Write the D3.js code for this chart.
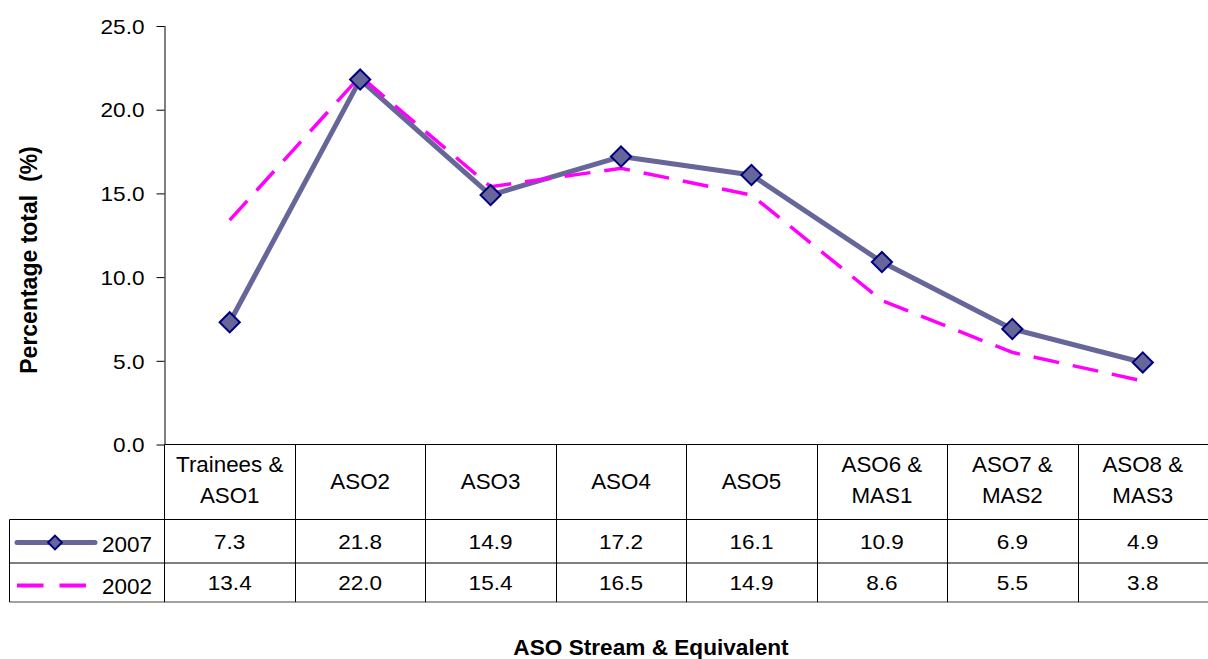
<!DOCTYPE html>
<html>
<head>
<meta charset="utf-8">
<script src="https://cdn.jsdelivr.net/npm/d3@7"></script>
<style>
  html, body { margin: 0; padding: 0; background: #fff; }
  svg { display: block; font-family: "Liberation Sans", Arial, sans-serif; }
</style>
</head>
<body>
<svg id="chart" width="1208" height="659"></svg>
<script>
// Grade groups along the x axis
const categories = ["Trainees & ASO1", "ASO2", "ASO3", "ASO4", "ASO5", "ASO6 & MAS1", "ASO7 & MAS2", "ASO8 & MAS3"];
// Percentage of total staff in each grade group
const values2007 = [7.3, 21.8, 14.9, 17.2, 16.1, 10.9, 6.9, 4.9];
const values2002 = [13.4, 22.0, 15.4, 16.5, 14.9, 8.6, 5.5, 3.8];
const seriesNames = ["2007", "2002"];
const yTicks = [0, 5, 10, 15, 20, 25];

const svg = d3.select("#chart");

const plotLeft = 164.5, plotRight = 1208, plotTop = 26, plotBottom = 444.5;
const headerBottom = 519.5, row1Bottom = 563, row2Bottom = 602, tableLeft = 9.5;

const x = d3.scaleBand().domain(categories).range([plotLeft, plotRight]);
const y = d3.scaleLinear().domain([0, 25]).range([plotBottom, plotTop]);
const cx = d => x(d) + x.bandwidth() / 2;

const BLUE = "#666699", NAVY = "#000080", MAGENTA = "#ff00ff";

// text placed with a slight horizontal stretch
function label(g, str, px, py, size, sx, opts = {}) {
  return g.append("text")
    .attr("transform", `translate(${px},${py}) scale(${sx},1)`)
    .attr("text-anchor", opts.anchor || "middle")
    .attr("font-size", size)
    .attr("font-weight", opts.weight || "normal")
    .attr("fill", "#000")
    .text(str);
}

// y axis
const yAxis = svg.append("g")
  .attr("transform", `translate(${plotLeft},0)`)
  .call(d3.axisLeft(y).tickValues(yTicks).tickFormat(d3.format(".1f")).tickSize(8).tickPadding(12));
yAxis.select(".domain").attr("stroke", "#000").attr("d", `M0.5,${plotTop}V${plotBottom}`);
yAxis.selectAll(".tick line").attr("stroke", "#000").attr("x2", -8);
yAxis.selectAll(".tick text")
  .attr("font-family", "Liberation Sans, Arial, sans-serif")
  .attr("font-size", 20)
  .attr("fill", "#000")
  .attr("dy", "0.36em")
  .attr("x", -20 / 1.13)
  .attr("transform", "scale(1.13,1)");

// data table grid
const grid = svg.append("g").attr("stroke", "#000").attr("stroke-width", 1).attr("fill", "none");
grid.append("line").attr("x1", plotLeft).attr("x2", plotRight).attr("y1", plotBottom).attr("y2", plotBottom);
grid.append("line").attr("x1", tableLeft).attr("x2", plotRight).attr("y1", headerBottom).attr("y2", headerBottom);
grid.append("line").attr("x1", tableLeft).attr("x2", plotRight).attr("y1", row1Bottom).attr("y2", row1Bottom);
grid.append("line").attr("x1", tableLeft).attr("x2", plotRight).attr("y1", row2Bottom).attr("y2", row2Bottom).attr("stroke", "#444");
grid.append("line").attr("x1", tableLeft).attr("x2", tableLeft).attr("y1", headerBottom).attr("y2", row2Bottom);
grid.selectAll("line.col").data(categories.slice(1)).enter().append("line")
  .attr("class", "col")
  .attr("x1", d => Math.round(x(d)) + 0.5).attr("x2", d => Math.round(x(d)) + 0.5)
  .attr("y1", plotBottom).attr("y2", row2Bottom);
grid.append("line").attr("x1", plotLeft).attr("x2", plotLeft).attr("y1", plotBottom).attr("y2", row2Bottom);

// category headers
const head = svg.append("g");
categories.forEach(c => {
  const parts = c.includes(" & ") ? [c.split(" & ")[0] + " &", c.split(" & ")[1]] : [c];
  if (parts.length === 2) {
    label(head, parts[0], cx(c), 471.5, 21.5, 1.04);
    label(head, parts[1], cx(c), 502.5, 21.5, 1.04);
  } else {
    label(head, parts[0], cx(c), 489, 21.5, 1.04);
  }
});

// value rows
const rows = svg.append("g");
const fmt = d3.format(".1f");
categories.forEach((c, i) => {
  label(rows, fmt(values2007[i]), cx(c), 549.3, 20, 1.13);
  label(rows, fmt(values2002[i]), cx(c), 590, 20, 1.13);
});

// legend keys in the row headers
const key = svg.append("g");
key.append("line").attr("x1", 17).attr("x2", 95).attr("y1", 542.5).attr("y2", 542.5)
  .attr("stroke", BLUE).attr("stroke-width", 5).attr("stroke-linecap", "round");
key.append("path").attr("d", d3.symbol(d3.symbolDiamond2, 122)())
  .attr("transform", "translate(55,542.5)")
  .attr("fill", BLUE).attr("stroke", NAVY).attr("stroke-width", 2);
label(key, seriesNames[0], 102, 551.5, 22.5, 1, { anchor: "start" });
key.append("line").attr("x1", 17).attr("x2", 86).attr("y1", 585.5).attr("y2", 585.5)
  .attr("stroke", MAGENTA).attr("stroke-width", 4).attr("stroke-dasharray", "26.5,16");
label(key, seriesNames[1], 102, 594, 22.5, 1, { anchor: "start" });

// series lines
const line2007 = d3.line().x((d, i) => cx(categories[i])).y(d => y(d));
const line2002 = d3.line().x((d, i) => cx(categories[i])).y(d => y(d));

svg.append("path").datum(values2007)
  .attr("d", line2007)
  .attr("fill", "none").attr("stroke", BLUE).attr("stroke-width", 5).attr("stroke-linejoin", "round");

svg.append("path").datum(values2002)
  .attr("d", line2002)
  .attr("fill", "none").attr("stroke", MAGENTA).attr("stroke-width", 3.5)
  .attr("stroke-dasharray", "26,14");

svg.append("g").selectAll("path").data(values2007).enter().append("path")
  .attr("d", d3.symbol(d3.symbolDiamond2, 260)())
  .attr("transform", (d, i) => `translate(${cx(categories[i])},${y(d)})`)
  .attr("fill", BLUE).attr("stroke", NAVY).attr("stroke-width", 2);

// axis titles
svg.append("text")
  .attr("transform", "translate(36.5,260) rotate(-90)")
  .attr("text-anchor", "middle")
  .attr("font-size", 23).attr("font-weight", "bold").attr("fill", "#000")
  .attr("xml:space", "preserve")
  .style("white-space", "pre")
  .text("Percentage total  (%)");

label(svg, "ASO Stream & Equivalent", 651, 655, 22.3, 1.015, { weight: "bold" });
</script>
</body>
</html>
